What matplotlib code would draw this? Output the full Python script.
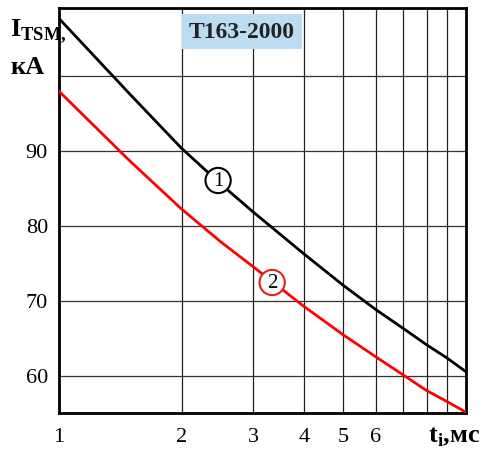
import numpy as np
import matplotlib.pyplot as plt

# данные
t_ms = [1, 1.5, 2, 2.5, 3, 4, 5, 6, 7, 8, 9, 10]
i_tsm_1 = [107.6, 97.4, 90.3, 85.5, 81.8, 76.2, 72.0, 68.8, 66.3, 64.1, 62.3, 60.5]
i_tsm_2 = [97.9, 88.5, 82.2, 77.8, 74.5, 69.2, 65.4, 62.5, 60.1, 58.0, 56.5, 55.1]

x_ticks = [1, 2, 3, 4, 5, 6]
y_ticks = [60, 70, 80, 90]

plt.rcParams['font.family'] = 'serif'
plt.rcParams['font.serif'] = ['Liberation Serif', 'DejaVu Serif']

fig = plt.figure(figsize=(4.85, 4.52), dpi=100)
ax = fig.add_axes([59 / 485, 1 - 414 / 452, 407 / 485, 405 / 452])

ax.set_xscale('log')
ax.set_xlim(1, 10)
ax.set_ylim(55, 109)

# сетка
for xv in range(2, 10):
    ax.axvline(xv, color='#222222', lw=0.9, zorder=1)
for yv in [60, 70, 80, 90, 100]:
    ax.axhline(yv, color='#333333', lw=0.9, zorder=1)

ax.plot(t_ms, i_tsm_1, color='black', lw=2, zorder=3)
ax.plot(t_ms, i_tsm_2, color='#ff0000', lw=2, zorder=3)

for s in ax.spines.values():
    s.set_linewidth(2)

ax.set_xticks(x_ticks)
ax.set_xticklabels([str(v) for v in x_ticks])
ax.xaxis.set_minor_locator(plt.NullLocator())
ax.set_yticks(y_ticks)
ax.set_yticklabels([str(v) for v in y_ticks])
ax.tick_params(length=0, labelsize=16, pad=10)
ax.tick_params(axis='y', pad=8)

# номера кривых
ax.text(2.46, 86.0, '1', fontsize=15, ha='center', va='center', zorder=4,
        bbox=dict(boxstyle='circle,pad=0.15', fc='white', ec='black', lw=1.5))
ax.text(3.34, 72.4, '2', fontsize=15, ha='center', va='center', zorder=4,
        bbox=dict(boxstyle='circle,pad=0.15', fc='white', ec='#e02020', lw=1.5))

# название прибора
ax.text(0.45, 0.941, 'T163-2000', transform=ax.transAxes, fontsize=17,
        fontweight='bold', ha='center', va='center', color='#222222', zorder=5,
        bbox=dict(boxstyle='square,pad=0.3', fc='#bcdcf2', ec='none'))

# подписи осей
fig.text(10 / 485, 1 - 32 / 452, r'I$_{\mathregular{TSM,}}$', fontsize=19,
         fontweight='bold', ha='left', va='center')
fig.text(10 / 485, 1 - 68 / 452, 'кА', fontsize=19, fontweight='bold',
         ha='left', va='center')
fig.text(428 / 485, 1 - 437 / 452, r't$_{\mathregular{i}}$,мс', fontsize=19,
         fontweight='bold', ha='left', va='center')

fig.savefig('out.png', dpi=100)
